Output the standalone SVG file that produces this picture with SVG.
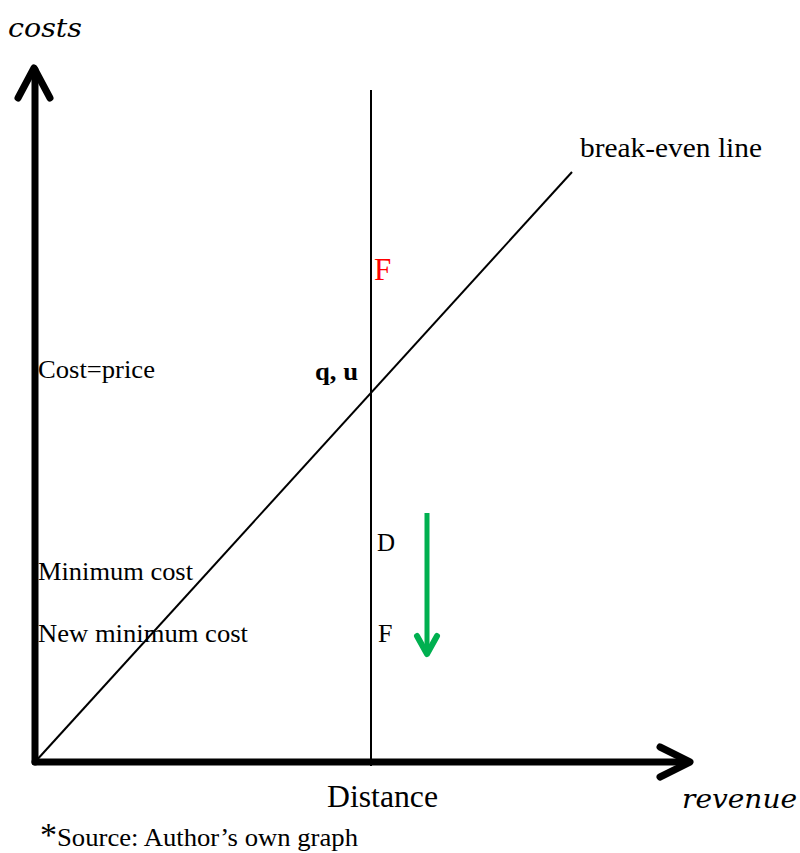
<svg xmlns="http://www.w3.org/2000/svg" width="800" height="853" viewBox="0 0 800 853">
<style>
.t{font-family:"Liberation Serif","Times New Roman",serif;fill:#000}
.m{font-family:"DejaVu Serif","Liberation Serif",serif;font-style:italic;fill:#000}
.axis{stroke:#000;stroke-width:7;fill:none;stroke-linecap:round;stroke-linejoin:round}
.thin{stroke:#000;stroke-width:2;fill:none}
</style>
<rect width="800" height="853" fill="#fff"/>
<g id="connectors">
<path class="axis" d="M35,762 V70" stroke-linecap="square"/>
<path class="axis" d="M18,98 L34,68 L50,98"/>
<path class="axis" d="M35,762 H688" stroke-linecap="square"/>
<path class="axis" d="M660,747 L690,762 L660,777"/>
<line class="thin" x1="371" y1="90" x2="371" y2="766"/>
<line class="thin" x1="35" y1="762" x2="572" y2="172"/>
<path d="M427,513 V652" stroke="#00b050" stroke-width="5" fill="none"/>
<path d="M417,636 L427,654 L437,636" stroke="#00b050" stroke-width="6" fill="none" stroke-linecap="round" stroke-linejoin="round"/>
</g>
<g id="label-costs"><text class="m" x="8" y="37" font-size="26" textLength="74" lengthAdjust="spacingAndGlyphs">costs</text></g>
<g id="label-revenue"><text class="m" x="682" y="808" font-size="26" textLength="115" lengthAdjust="spacingAndGlyphs">revenue</text></g>
<g id="label-breakeven"><text class="t" x="580" y="157" font-size="28" textLength="182" lengthAdjust="spacingAndGlyphs">break-even line</text></g>
<g id="label-F-red"><text class="t" x="374" y="280" font-size="31" fill="#ff0000" style="fill:#ff0000">F</text></g>
<g id="label-costprice"><text class="t" x="38" y="378" font-size="25" textLength="117" lengthAdjust="spacingAndGlyphs">Cost=price</text></g>
<g id="label-qu"><text class="t" x="315" y="380" font-size="26" font-weight="bold" textLength="43" lengthAdjust="spacingAndGlyphs">q, u</text></g>
<g id="label-D"><text class="t" x="377" y="551" font-size="25">D</text></g>
<g id="label-mincost"><text class="t" x="38" y="580" font-size="25" textLength="155" lengthAdjust="spacingAndGlyphs">Minimum cost</text></g>
<g id="label-newmincost"><text class="t" x="38" y="642" font-size="25" textLength="210" lengthAdjust="spacingAndGlyphs">New minimum cost</text></g>
<g id="label-F"><text class="t" x="378" y="642" font-size="26">F</text></g>
<g id="label-distance"><text class="t" x="327" y="807" font-size="31" textLength="111" lengthAdjust="spacingAndGlyphs">Distance</text></g>
<g id="label-source"><text class="t" x="40" y="846" font-size="25"><tspan font-size="34">*</tspan><tspan textLength="301" lengthAdjust="spacingAndGlyphs">Source: Author’s own graph</tspan></text></g>
</svg>
